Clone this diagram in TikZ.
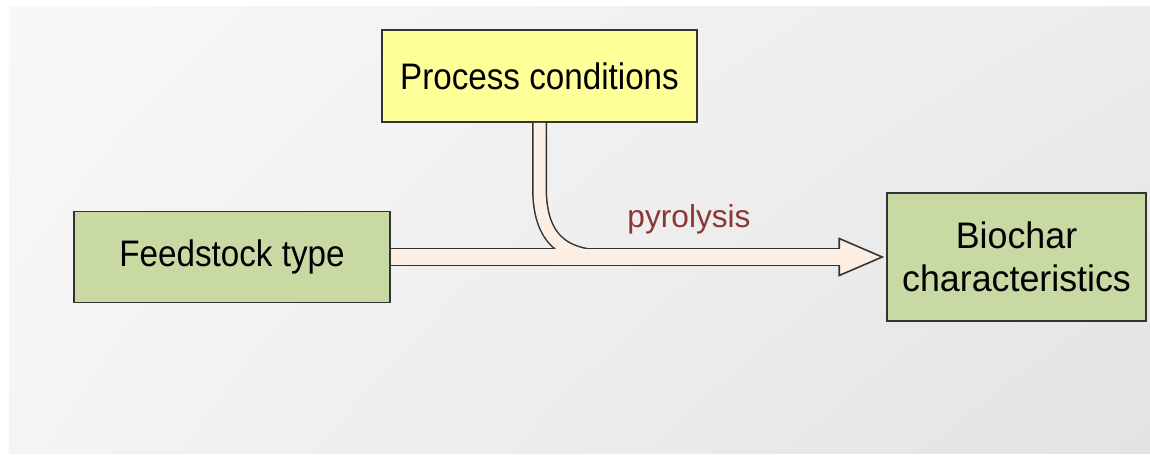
\documentclass[tikz,border=0pt]{standalone}
\usepackage{fontspec}
\setmainfont{Liberation Sans}[FakeStretch=0.90]
\newfontfamily\widefont{Liberation Sans}[FakeStretch=0.97]
\newfontfamily\pyrofont{Liberation Sans}
\usetikzlibrary{positioning,calc,shadings}
\definecolor{procyellow}{HTML}{FFFF99}
\definecolor{boxgreen}{HTML}{C9D9A4}
\definecolor{pipepeach}{HTML}{FDEEE4}
\definecolor{pyrored}{HTML}{8E3535}
\definecolor{edgegray}{HTML}{333333}
\definecolor{bgul}{HTML}{F8F8F8}
\definecolor{bgur}{HTML}{ECECEC}
\definecolor{bgll}{HTML}{F4F4F4}
\definecolor{bglr}{HTML}{E3E3E3}

\begin{document}
\begin{tikzpicture}
  [
  box/.style={draw=edgegray,line width=0.9pt,align=center,inner sep=0pt,font=\fontsize{21}{24.5}\selectfont},
  pipe/.style={draw=edgegray,line width=#1},
  pipefill/.style={draw=pipepeach,line width=#1}
  ]
  \useasboundingbox (0,0) rectangle (23,9.08);
  \shade[upper left=bgul,upper right=bgur,lower left=bgll,lower right=bglr] (0.18,0.02) rectangle (23,8.96);

  \node[box,fill=procyellow,minimum width=6.3cm,minimum height=1.84cm] (proc) at (10.79,7.56) {Process conditions};
  \node[box,fill=boxgreen,minimum width=6.32cm,minimum height=1.82cm] (feed) at (4.64,3.94) {Feedstock type};
  \node[box,fill=boxgreen,minimum width=5.18cm,minimum height=2.56cm,font=\widefont\fontsize{21}{24.5}\selectfont] (bio) at (20.33,3.94) {Biochar\\characteristics};

  \coordinate (tip) at ($(bio.west)+(-0.08,0)$);
  \coordinate (head) at ($(tip)+(-0.86,0)$);
  \coordinate (bend) at ($(proc.south)+(0,-1.3)$);
  \coordinate (merge) at ($(proc.south |- feed.east)+(1.35,0)$);

  \draw[pipe=0.37cm] (feed.east) -- (head);
  \draw[pipe=0.30cm] (proc.south) -- (bend) .. controls ($(bend)+(0,-1.0)$) and ($(merge)+(-0.9,0)$) .. (merge);
  \filldraw[fill=pipepeach,draw=edgegray,line width=0.9pt] ($(head)+(0,0.37)$) -- (tip) -- ($(head)+(0,-0.37)$) -- cycle;
  \draw[pipefill=0.31cm] (feed.east) -- ($(head)+(0.04,0)$);
  \draw[pipefill=0.24cm] (proc.south) -- (bend) .. controls ($(bend)+(0,-1.0)$) and ($(merge)+(-0.9,0)$) .. (merge);

  \node[font=\pyrofont\fontsize{18}{20}\selectfont,text=pyrored,anchor=base] (pyro) at (13.78,4.54) {pyrolysis};
\end{tikzpicture}
\end{document}
